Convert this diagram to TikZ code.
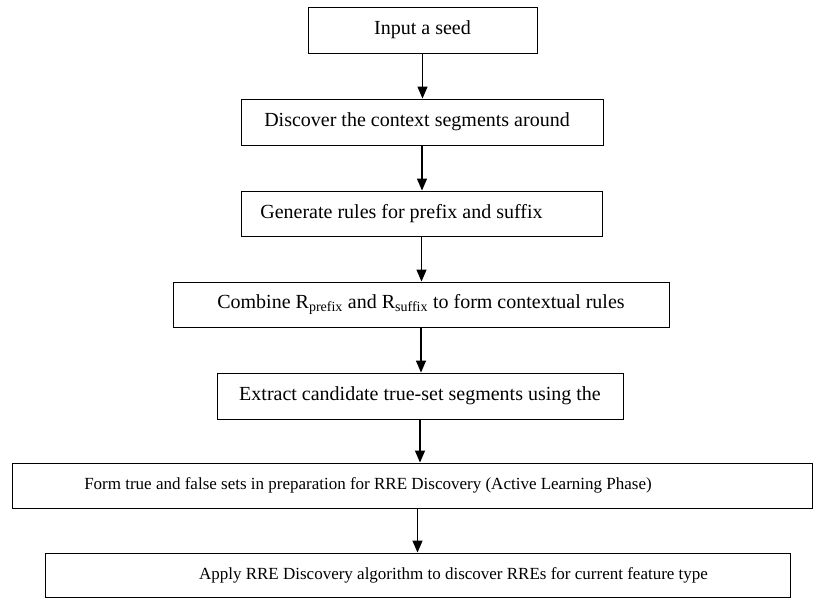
\documentclass[tikz,border=0pt]{standalone}
\usepackage{fontspec}
\setmainfont{Liberation Serif}
\usetikzlibrary{arrows.meta}

\tikzset{
  stepbox/.style={draw=black, line width=0.9pt, rectangle, inner sep=0pt,
    font=\fontsize{20}{23}\selectfont},
  widebox/.style={stepbox, font=\fontsize{17}{20}\selectfont},
  flow/.style={draw=black, line width=1.3pt,
    -{Triangle[width=10pt,length=12pt]}}
}

\begin{document}
\begin{tikzpicture}[x=1pt,y=-1pt]
  \useasboundingbox (0,0) rectangle (815,600);

  \node[stepbox, minimum width=229pt, minimum height=46pt] (b1) at (422.5,30)
    {Input a seed};
  \node[stepbox, minimum width=362pt, minimum height=46pt] (b2) at (422,122)
    {\hspace*{-10pt}Discover the context segments around};
  \node[stepbox, minimum width=361pt, minimum height=45pt] (b3) at (421.5,213.5)
    {\hspace*{-40pt}Generate rules for prefix and suffix};
  \node[stepbox, minimum width=496pt, minimum height=45pt] (b4) at (421,304.5)
    {Combine R\textsubscript{prefix} and R\textsubscript{suffix} to form contextual rules};
  \node[stepbox, minimum width=406pt, minimum height=46pt] (b5) at (420,396)
    {Extract candidate true-set segments using the};
  \node[widebox, minimum width=800pt, minimum height=45pt] (b6) at (412,485.5)
    {\hspace*{-88pt}Form true and false sets in preparation for RRE Discovery (Active Learning Phase)};
  \node[widebox, minimum width=745pt, minimum height=44pt] (b7) at (417.5,575)
    {\hspace*{72pt}Apply RRE Discovery algorithm to discover RREs for current feature type};

  \draw[flow] (b1.south) -- (b1.south |- b2.north);
  \draw[flow] (b2.south) -- (b2.south |- b3.north);
  \draw[flow] (b3.south) -- (b3.south |- b4.north);
  \draw[flow] (b4.south) -- (b4.south |- b5.north);
  \draw[flow] (b5.south) -- (b5.south |- b6.north);
  \draw[flow] (b7.north |- b6.south) -- (b7.north);
\end{tikzpicture}
\end{document}
